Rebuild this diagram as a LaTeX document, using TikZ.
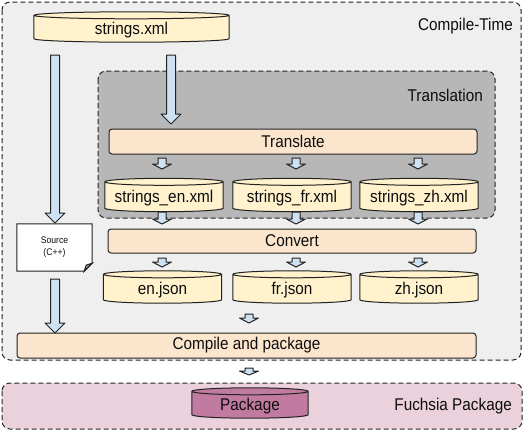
\documentclass[tikz,border=0pt]{standalone}
\usepackage{fontspec}
\setmainfont{Liberation Sans}[FakeStretch=0.9]
\usetikzlibrary{calc}

\definecolor{compilefill}{HTML}{EFEFEF}
\definecolor{transfill}{HTML}{B7B7B7}
\definecolor{pkgareafill}{HTML}{EAD1DC}
\definecolor{stagefill}{HTML}{FCE5CD}
\definecolor{filefill}{HTML}{FFF2CC}
\definecolor{pkgfill}{HTML}{C27BA0}
\definecolor{arrowfill}{HTML}{CFE2F3}
\definecolor{edge}{HTML}{222222}

\pgfdeclarelayer{areas}
\pgfdeclarelayer{shapes}
\pgfsetlayers{areas,shapes,main}

\tikzset{area/.style={draw=edge,line width=1pt,dash pattern=on 5pt off 3pt,rounded corners=8pt},
area label/.style={font=\fontsize{17}{20}\selectfont,anchor=east,inner sep=0pt},
stage/.style={draw=edge,fill=stagefill,line width=1pt,rounded corners=3pt,font=\fontsize{17}{20}\selectfont,inner sep=0pt,minimum height=25pt},
file/.style={font=\fontsize{17}{20}\selectfont,inner sep=0pt,minimum width=118pt,minimum height=26pt},
file outline/.style={draw=edge,line width=1pt},
source/.style={font=\fontsize{9.6}{12}\selectfont,align=center,inner sep=0pt,minimum width=75pt,minimum height=47pt},
fat arrow/.style={draw=edge,fill=arrowfill,line width=1pt}}

% cylinder round a file node, drawn behind its text
\newcommand{\filecyl}[2]{%
  \begin{pgfonlayer}{shapes}
  \draw[file outline,fill=#2] let \p1=(#1.north west), \p2=(#1.south east) in
    (\x1,\y1+3.5pt) -- (\x1,\y2+3.5pt)
    arc[start angle=180,end angle=360,x radius={(\x2-\x1)/2},y radius=3.5pt]
    -- (\x2,\y1+3.5pt)
    arc[start angle=0,end angle=180,x radius={(\x2-\x1)/2},y radius=3.5pt] -- cycle
    (\x1,\y1+3.5pt)
    arc[start angle=180,end angle=360,x radius={(\x2-\x1)/2},y radius=3.5pt];
  \end{pgfonlayer}}

% sheet with a folded corner
\newcommand{\sheet}[1]{%
  \begin{pgfonlayer}{shapes}
  \draw[file outline,fill=white] (#1.north west) -- (#1.north east)
    -- ($(#1.south east)+(0pt,8pt)$) -- ($(#1.south east)+(-8pt,0pt)$) -- (#1.south west) -- cycle;
  \draw[file outline,fill=black!35] ($(#1.south east)+(0pt,8pt)$) -- ($(#1.south east)+(-6pt,6pt)$)
    -- ($(#1.south east)+(-8pt,0pt)$) -- cycle;
  \end{pgfonlayer}}

% block arrow: from, to, shaft half width, head half width, head length
\newcommand{\fatarrow}[5]{%
  \draw[fat arrow] let \p1=(#1), \p2=(#2) in
    (\x1-#3,\y1) -- (\x1+#3,\y1) -- (\x1+#3,\y2+#5) -- (\x1+#4,\y2+#5)
    -- (\x1,\y2) -- (\x1-#4,\y2+#5) -- (\x1-#3,\y2+#5) -- cycle;}
\newcommand{\bigarrow}[2]{\fatarrow{#1}{#2}{4.5pt}{10pt}{10pt}}
\newcommand{\smallarrow}[2]{\fatarrow{#1}{#2}{4pt}{9.5pt}{5pt}}

\begin{document}
\begin{tikzpicture}[x=1pt,y=-1pt,line join=round,text=black!95]
\useasboundingbox (0,0) rectangle (527,432);

%% Coordinates of areas.
\coordinate (ct1) at (2,2);
\coordinate (ct2) at (521,360);
\coordinate (tr1) at (98,71);
\coordinate (tr2) at (495,218);
\coordinate (fp1) at (2,383);
\coordinate (fp2) at (522,429);

%% Coordinates of nodes.
\coordinate (nsrc) at (131.5,30.5);
\coordinate (ntrans) at (293,141.5);
\coordinate (nxen) at (164,198.5);
\coordinate (nxfr) at (292,198.5);
\coordinate (nxzh) at (419,198.5);
\coordinate (ncode) at (54.5,247.5);
\coordinate (nconv) at (292,241);
\coordinate (njen) at (162.5,290.5);
\coordinate (njfr) at (292,290.5);
\coordinate (njzh) at (419,290.5);
\coordinate (ncomp) at (246.5,345.5);
\coordinate (npkg) at (250,406.5);

%% Coordinates of arrow ends.
\coordinate (a1) at (55,55);
\coordinate (a1p) at (55,223);
\coordinate (a2) at (171,55);
\coordinate (a2p) at (171,124);
\coordinate (a3) at (55,279);
\coordinate (a3p) at (55,333);
\foreach \x [count=\i] in {162,296,418} {
  \coordinate (b\i) at (\x,158);
  \coordinate (b\i p) at (\x,169);
  \coordinate (c\i) at (\x,212);
  \coordinate (c\i p) at (\x,224);
  \coordinate (d\i) at (\x,258);
  \coordinate (d\i p) at (\x,267);
}
\coordinate (e1) at (249,314);
\coordinate (e1p) at (249,323);
\coordinate (f1) at (249,368);
\coordinate (f1p) at (249,375);

%% areas
\begin{pgfonlayer}{areas}
\draw[area,fill=compilefill] (ct1) rectangle (ct2);
\draw[area,fill=transfill] (tr1) rectangle (tr2);
\draw[area,fill=pkgareafill] (fp1) rectangle (fp2);
\end{pgfonlayer}

%% area labels
\node[area label] (lct) at (513,26) {Compile-Time};
\node[area label] (ltr) at (483,95) {Translation};
\node[area label] (lfp) at (512,406) {Fuchsia Package};

%% stages
\node[stage,minimum width=368pt] (translate) at (ntrans) {Translate};
\node[stage,minimum width=368pt,minimum height=24pt] (convert) at (nconv) {Convert};
\node[stage,minimum width=459pt] (compile) at (ncomp) {Compile and package};

%% files
\node[file,minimum width=195pt,minimum height=23pt] (strings) at (nsrc) {strings.xml};
\node[file] (xmlen) at (nxen) {strings\_en.xml};
\node[file] (xmlfr) at (nxfr) {strings\_fr.xml};
\node[file] (xmlzh) at (nxzh) {strings\_zh.xml};
\node[file,minimum height=25pt] (jsonen) at (njen) {en.json};
\node[file,minimum height=25pt] (jsonfr) at (njfr) {fr.json};
\node[file,minimum height=25pt] (jsonzh) at (njzh) {zh.json};
\node[file,minimum width=116pt,minimum height=23pt] (package) at (npkg) {Package};
\foreach \f in {strings,xmlen,xmlfr,xmlzh,jsonen,jsonfr,jsonzh}
  \filecyl{\f}{filefill};
\filecyl{package}{pkgfill};

%% source sheet
\node[source] (code) at (ncode) {Source\\(C++)};
\sheet{code}

%% arrows
\bigarrow{a1}{a1p}
\bigarrow{a2}{a2p}
\bigarrow{a3}{a3p}
\foreach \i in {1,2,3} {
  \smallarrow{b\i}{b\i p}
  \smallarrow{c\i}{c\i p}
  \smallarrow{d\i}{d\i p}
}
\smallarrow{e1}{e1p}
\fatarrow{f1}{f1p}{4pt}{9.5pt}{4pt}

\end{tikzpicture}
\end{document}
